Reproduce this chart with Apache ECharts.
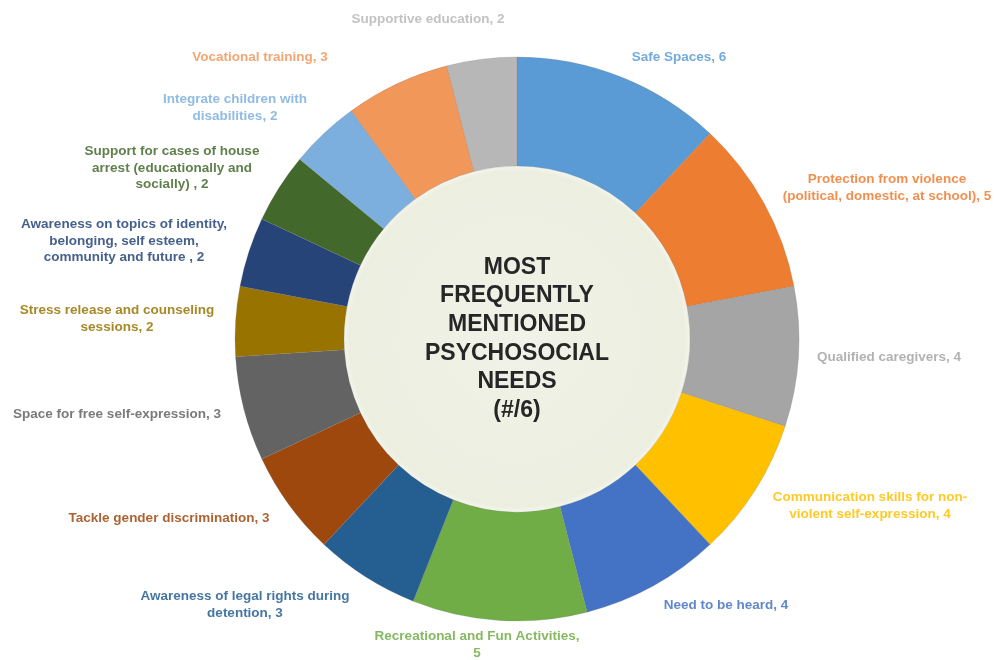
<!DOCTYPE html>
<html><head><meta charset="utf-8">
<script src="https://cdn.jsdelivr.net/npm/echarts@6/dist/echarts.min.js"></script>
<style>html,body{margin:0;padding:0;background:#fff}#c{width:994px;height:660px}</style>
</head><body><div id="c"></div>
<script>
const categories = [
  "Safe Spaces",
  "Protection from violence\n(political, domestic, at school)",
  "Qualified caregivers",
  "Communication skills for non-\nviolent self-expression",
  "Need to be heard",
  "Recreational and Fun Activities,\n",
  "Awareness of legal rights during\ndetention",
  "Tackle gender discrimination",
  "Space for free self-expression",
  "Stress release and counseling\nsessions",
  "Awareness on topics of identity,\nbelonging, self esteem,\ncommunity and future ",
  "Support for cases of house\narrest (educationally and\nsocially) ",
  "Integrate children with\ndisabilities",
  "Vocational training",
  "Supportive education"
];
const values = [6, 5, 4, 4, 4, 5, 3, 3, 3, 2, 2, 2, 2, 3, 2];
const colors = ["#5b9bd5","#ed7d31","#a5a5a5","#ffc000","#4472c4","#70ad47","#255e91","#9e480e","#636363","#997300","#264478","#43682b","#7cafdd","#f1975a","#b7b7b7"];
const labelCenters = [[679,57],[887,188],[889,357],[870,506],[726,605],[477,645],[245,605],[169,518],[117,414],[117,319],[124,241],[172,168],[235,108],[260,57],[428,19]];
const centerTitle = "MOST\nFREQUENTLY\nMENTIONED\nPSYCHOSOCIAL\nNEEDS\n(#/6)";

const chart = echarts.init(document.getElementById('c'));
const data = categories.map((n, i) => ({
  name: n, value: values[i],
  itemStyle: {color: colors[i]},
  label: {color: colors[i]}
}));
chart.setOption({
  animation: false,
  series: [
    {
      type: 'pie', center: [517, 339], radius: [0, 173], silent: true,
      label: {show: true, position: 'center', formatter: centerTitle,
        fontFamily: 'Liberation Sans, Arial, sans-serif', fontWeight: 'bold', fontSize: 23,
        lineHeight: 28.6, color: '#262626'},
      labelLine: {show: false},
      itemStyle: {color: {type: 'radial', x: 0.5, y: 0.5, r: 0.5,
        colorStops: [{offset: 0, color: '#f1f2e8'}, {offset: 0.97, color: '#ecefe0'}, {offset: 1, color: '#f4f5ee'}]}},
      data: [{value: 1, name: 'center'}]
    },
    {
      type: 'pie', center: [517, 339], radius: [173, 282], startAngle: 90, clockwise: true,
      avoidLabelOverlap: false,
      itemStyle: {borderColor: 'rgba(120,120,120,0.35)', borderWidth: 0.6},
      label: {show: true, position: 'outside', opacity: 0.85,
        formatter: p => p.name.endsWith('\n') ? p.name + p.value : p.name + ', ' + p.value,
        fontFamily: 'Liberation Sans, Arial, sans-serif', fontWeight: 'bold', fontSize: 13.5,
        lineHeight: 16.5, align: 'center'},
      labelLine: {show: false},
      labelLayout: p => ({x: labelCenters[p.dataIndex][0], y: labelCenters[p.dataIndex][1], align: 'center', verticalAlign: 'middle'}),
      data: data
    }
  ]
});
</script></body></html>
